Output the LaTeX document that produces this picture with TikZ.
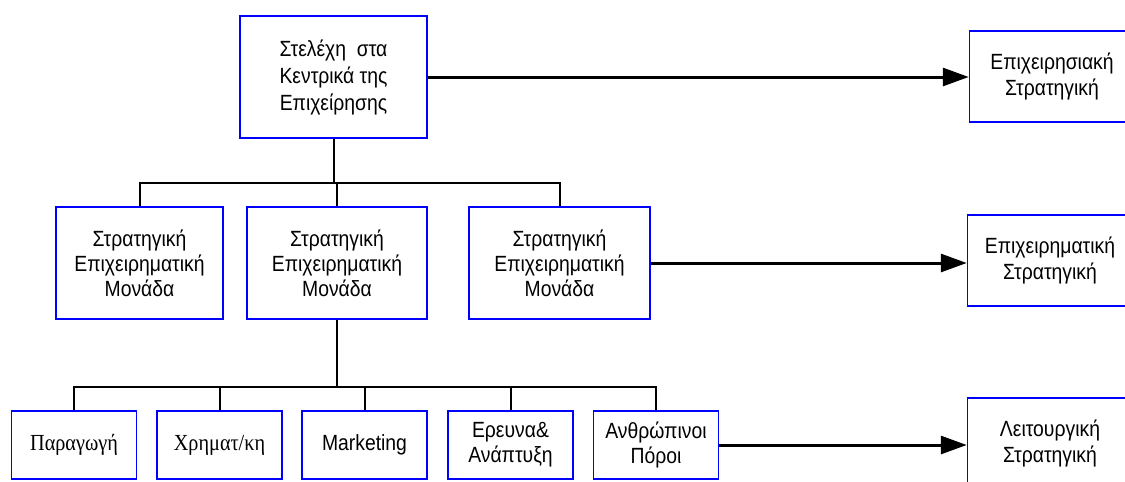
\documentclass[tikz,border=0pt]{standalone}
\usepackage{fontspec}
\setmainfont{Liberation Sans}[FakeStretch=0.88]
\newfontfamily\timesgr{Liberation Serif}[FakeStretch=0.88]
\usetikzlibrary{arrows.meta}
\begin{document}
\begin{tikzpicture}[x=1pt,y=-1pt,
  box/.style={draw=blue, line width=1.5pt, fill=white, inner sep=0pt, align=center,
              font=\fontsize{22}{27}\selectfont},
  unit/.style={box, minimum width=180pt, minimum height=112pt, font=\fontsize{22}{25}\selectfont},
  dept/.style={box, minimum width=125pt, minimum height=68pt, font=\fontsize{22}{25}\selectfont},
  level/.style={box, minimum width=165pt, minimum height=91pt, font=\fontsize{22}{26}\selectfont},
  serifdept/.style={dept, font=\timesgr\fontsize{23}{25}\selectfont},
  link/.style={draw=black, line width=2pt},
  flow/.style={draw=black, line width=3pt, -{Triangle[length=26pt,width=18pt]}}]
\useasboundingbox[fill=white] (0,0) rectangle (1125,482);

% headquarters
\node[box, minimum width=187pt, minimum height=122pt] (hq) at (333.5,77)
  {Στελέχη\ \ στα\\Κεντρικά της\\Επιχείρησης};

% strategic business units
\node[unit, minimum width=167pt] (sbu1) at (139.5,263) {Στρατηγική\\Επιχειρηματική\\Μονάδα};
\node[unit] (sbu2) at (337,263) {Στρατηγική\\Επιχειρηματική\\Μονάδα};
\node[unit, minimum width=181pt] (sbu3) at (559.5,263) {Στρατηγική\\Επιχειρηματική\\Μονάδα};

% functional departments
\node[serifdept] (d1) at (74,445) {Παραγωγή};
\node[serifdept] (d2) at (219.5,445) {Χρηματ/κη};
\node[dept] (d3) at (364.5,445) {Marketing};
\node[dept] (d4) at (510.5,445) {Ερευνα\&\\Ανάπτυξη};
\node[dept] (d5) at (656,445) {Ανθρώπινοι\\Πόροι};

% strategy levels
\node[level] (s1) at (1052,76.5) {Επιχειρησιακή\\Στρατηγική};
\node[level] (s2) at (1050,260.5) {Επιχειρηματική\\Στρατηγική};
\node[level] (s3) at (1050,443.5) {Λειτουργική\\Στρατηγική};

% tree connectors
\coordinate (j1) at (333.5,183);
\draw[link] (hq.south) -- (j1);
\draw[link] (sbu1.north) |- (j1) -| (sbu3.north);
\draw[link] (sbu2.north) -- (sbu2.north |- j1);

\coordinate (j2) at (337,387);
\draw[link] (sbu2.south) -- (j2);
\draw[link] (d1.north) |- (j2) -| (d5.north);
\draw[link] (d2.north) -- (d2.north |- j2);
\draw[link] (d3.north) -- (d3.north |- j2);
\draw[link] (d4.north) -- (d4.north |- j2);

% arrows to strategy levels
\draw[flow] (hq.east) -- (hq.east -| s1.west);
\draw[flow] (sbu3.east) -- (sbu3.east -| s2.west);
\draw[flow] (d5.east) -- (d5.east -| s3.west);
\end{tikzpicture}
\end{document}
